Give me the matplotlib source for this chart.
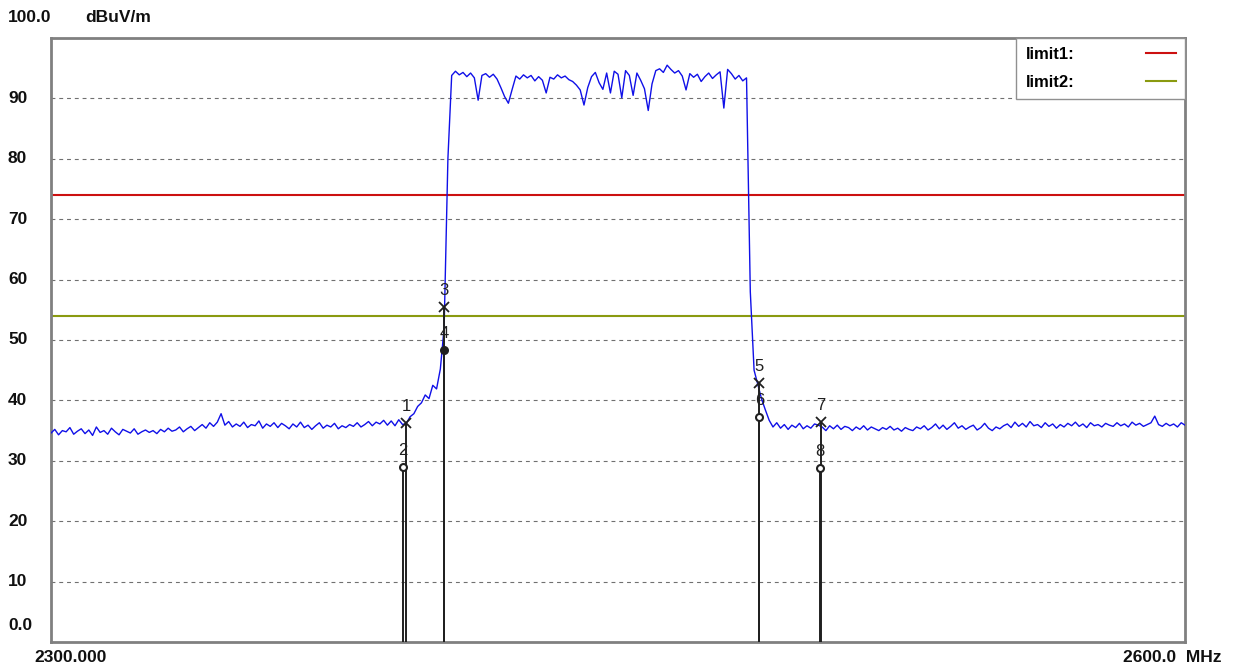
import matplotlib

matplotlib.use("Agg")
import matplotlib.pyplot as plt
import matplotlib.transforms as mtransforms
import numpy as np

# sweep: 2300..2600 MHz, 1 MHz step
F_START, F_STOP = 2300.0, 2600.0

# trace levels (dBuV/m)
LEVEL_LOW_SIDE = [  # 2300..2393
    34.6, 35.2, 34.3, 35.0, 34.8, 35.5, 34.4, 34.9, 35.3, 34.5,
    35.1, 34.2, 35.6, 34.7, 35.0, 34.4, 35.4, 34.8, 34.3, 35.2,
    34.9, 34.6, 35.3, 34.4, 34.8, 35.1, 34.7, 35.0, 34.5, 35.2,
    34.8, 35.4, 34.9, 35.1, 35.6, 34.8, 35.3, 35.7, 35.0, 35.5,
    36.0, 35.4, 36.3, 35.7, 36.4, 37.8, 35.9, 36.5, 35.6, 36.1,
    35.7, 36.4, 35.5, 36.0, 35.8, 36.6, 35.4, 36.1, 35.7, 36.3,
    35.5, 36.2, 35.8, 35.3, 36.1, 35.6, 36.4, 35.5, 35.9, 35.2,
    35.8, 36.3, 35.4, 35.9, 35.6, 36.2, 35.3, 35.8, 35.5, 36.0,
    35.7, 36.3, 35.6, 36.0, 36.5, 35.8, 36.4, 36.1, 36.7, 35.9,
    36.6, 35.8, 36.8, 36.0,
]
LEVEL_RISE = [  # 2394..2405
    36.2, 37.3, 37.8, 39.0, 39.6, 40.9, 40.3, 42.5, 41.9, 45.2, 52.0, 80.0,
]
LEVEL_PASSBAND = [  # 2406..2484
    93.8, 94.5, 93.9, 94.3, 93.6, 94.2, 93.4, 89.7, 93.8, 94.1,
    93.5, 94.0, 93.2, 91.8, 90.3, 89.2, 91.5, 93.7, 93.2, 93.9,
    93.4, 93.8, 92.9, 93.6, 93.0, 90.9, 93.5, 93.2, 93.9, 93.4,
    93.7, 93.1, 92.8, 92.2, 91.4, 88.9, 91.8, 93.6, 94.3, 92.6,
    91.5, 94.2, 90.9, 94.5, 94.0, 90.1, 94.6, 93.8, 90.5, 94.2,
    93.0, 91.6, 88.0, 92.4, 94.6, 94.9, 94.3, 95.5, 94.8, 94.2,
    94.6, 93.7, 91.4, 94.1, 93.5, 94.0, 92.8, 93.6, 94.2, 93.3,
    93.9, 94.4, 88.4, 94.8, 94.1, 93.2, 93.8, 92.9, 93.4,
]
LEVEL_FALL = [58.0, 45.0, 42.6, 40.2, 38.4, 36.7]  # 2485..2490
LEVEL_HIGH_SIDE = [  # 2491..2600
    35.6, 36.3, 35.4, 36.0, 35.2, 35.9, 35.5, 36.2, 35.3, 35.8,
    35.4, 36.1, 35.9, 35.6, 35.0, 35.8, 35.3, 35.9, 35.2, 35.7,
    35.5, 35.0, 35.6, 35.2, 35.8, 35.1, 35.6, 35.3, 35.0, 35.5,
    35.2, 35.7, 35.1, 35.4, 34.9, 35.5, 35.2, 35.0, 35.6, 35.3,
    35.8, 35.1, 35.5, 36.1, 35.3, 35.9, 35.2, 35.7, 36.3, 35.4,
    35.8, 35.2, 35.6, 35.9, 35.1, 35.5, 36.2, 35.4, 35.0, 35.6,
    35.3, 35.8, 36.1, 35.5, 36.4, 35.7, 36.2, 35.6, 36.5, 35.8,
    36.0, 35.5, 36.3, 35.7, 36.1, 35.4, 36.0, 35.6, 36.2, 35.8,
    36.4, 35.7, 36.1, 35.5, 36.3, 35.8, 36.0, 35.6, 36.2, 35.9,
    35.7, 36.3, 35.8, 36.1, 35.6, 36.4, 35.9, 36.2, 35.7, 36.0,
    36.3, 37.4, 36.0, 35.7, 36.2, 35.8, 36.1, 35.6, 36.3, 35.9,
]

LIMIT1 = 74.0
LIMIT2 = 54.0

# markers: number, frequency (MHz), level (dBuV/m), symbol
MARKER_NO = [1, 2, 3, 4, 5, 6, 7, 8]
MARKER_FREQ = [2393.9, 2393.1, 2404.0, 2404.0, 2487.4, 2487.4, 2503.7, 2503.4]
MARKER_LEVEL = [36.3, 29.0, 55.5, 48.3, 42.8, 37.2, 36.4, 28.8]
MARKER_SYM = ["x", "o", "x", "O", "x", "o", "x", "o"]

YTICKS = [0, 10, 20, 30, 40, 50, 60, 70, 80, 90]
YTICK_LABELS = ["0.0", "10", "20", "30", "40", "50", "60", "70", "80", "90"]

trace = np.array(LEVEL_LOW_SIDE + LEVEL_RISE + LEVEL_PASSBAND + LEVEL_FALL + LEVEL_HIGH_SIDE)
freq = np.linspace(F_START, F_STOP, len(trace))

plt.rcParams["font.family"] = ["Liberation Sans", "DejaVu Sans"]
FONT = dict(fontsize=12.5, fontweight="bold", color="#101010")

fig = plt.figure(figsize=(12.47, 6.65), dpi=100)
ax = fig.add_axes([51 / 1247, 1 - 642 / 665, (1185 - 51) / 1247, (642 - 38) / 665])

ax.set_xlim(F_START, F_STOP)
ax.set_ylim(0, 100)
for y in YTICKS[1:]:
    ax.axhline(y, color="#707070", lw=0.8, ls=(0, (3.5, 3.5)), zorder=1)

ax.plot(freq, trace, color="#1010e8", lw=1.0, zorder=3)
ax.axhline(LIMIT1, color="#cc1010", lw=1.5, label="limit1:", zorder=2)
ax.axhline(LIMIT2, color="#8a9a10", lw=1.5, label="limit2:", zorder=2)

for no, f, lv, sym in zip(MARKER_NO, MARKER_FREQ, MARKER_LEVEL, MARKER_SYM):
    ax.plot([f, f], [0, lv], color="#202020", lw=1.4, zorder=4)
    if sym == "x":
        ax.plot(f, lv, marker="x", ms=7, mew=1.3, color="#202020", zorder=5)
    else:
        ax.plot(f, lv, marker="o", ms=5, mew=1.5, color="#202020",
                mfc="#202020" if sym == "O" else "white", zorder=5)
    ax.annotate(str(no), (f, lv), xytext=(0, 12), textcoords="offset points",
                ha="center", va="center", fontsize=12, color="#202020", zorder=6)

ax.set_xticks([])
ax.set_yticks([])
for s in ax.spines.values():
    s.set_color("#808080")
    s.set_linewidth(2)

trans = mtransforms.blended_transform_factory(fig.transFigure, ax.transData)
for y, lab in zip(YTICKS, YTICK_LABELS):
    if y == 0:
        fig.text(8 / 1247, 1 - 626 / 665, lab, ha="left", va="center", **FONT)
    else:
        ax.text(8 / 1247, y, lab, transform=trans, ha="left", va="center", **FONT)

fig.text(8 / 1247, 1 - 18 / 665, "100.0", ha="left", va="center", **FONT)
fig.text(85 / 1247, 1 - 18 / 665, "dBuV/m", ha="left", va="center", **FONT)
fig.text(34 / 1247, 1 - 657 / 665, "2300.000", ha="left", va="center", **FONT)
fig.text(1123 / 1247, 1 - 657 / 665, "2600.0  MHz", ha="left", va="center", **FONT)

leg = ax.legend(loc="upper right", borderaxespad=0, markerfirst=False,
                handlelength=1.8, handletextpad=4.3, labelspacing=0.75,
                borderpad=0.55, fancybox=False, framealpha=1, edgecolor="#909090",
                prop=dict(family="Liberation Sans", weight="bold", size=12))
leg.get_frame().set_linewidth(1.0)

fig.savefig("out.png", dpi=100, facecolor="white")
